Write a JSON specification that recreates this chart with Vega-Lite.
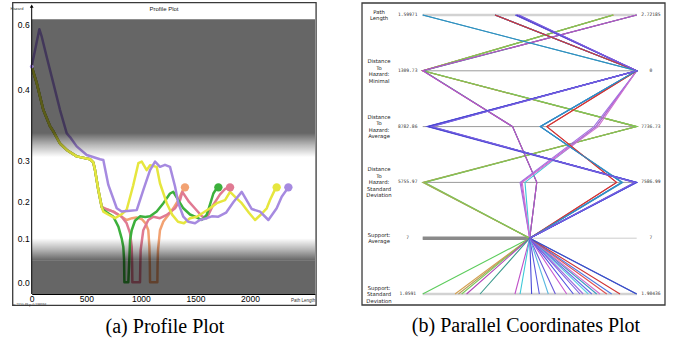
{
"$schema":"https://vega.github.io/schema/vega-lite/v6.json",
"width":673,"height":343,"padding":0,"autosize":{"type":"none"},
"background":"white",
"config":{"view":{"stroke":null},
"axisX":{"orient":"bottom","offset":-49,"tickSize":0,"labelPadding":0.8,"labelFontSize":8.5,"labelFont":"Liberation Sans","labelColor":"#000","domainColor":"#000","domainWidth":1,"grid":false,"labelFlush":false,"labelOverlap":false},
"axisY":{"orient":"left","offset":-31.7,"tickSize":0,"labelPadding":2.5,"labelFontSize":8.5,"labelFont":"Liberation Sans","labelColor":"#000","domain":false,"grid":false,"labelOverlap":false,"labelBound":false}},
"datasets":{
"prof":[
{"id":"orange","pl":0,"hz":0.469},{"id":"orange","pl":46,"hz":0.418},{"id":"orange","pl":106,"hz":0.371},{"id":"orange","pl":168,"hz":0.348},{"id":"orange","pl":198,"hz":0.341},{"id":"orange","pl":259,"hz":0.324},{"id":"orange","pl":321,"hz":0.315},{"id":"orange","pl":412,"hz":0.306},{"id":"orange","pl":534,"hz":0.302},{"id":"orange","pl":564,"hz":0.296},{"id":"orange","pl":580,"hz":0.277},{"id":"orange","pl":610,"hz":0.229},{"id":"orange","pl":641,"hz":0.186},
{"id":"orange","pl":680,"hz":0.18},{"id":"orange","pl":748,"hz":0.173},{"id":"orange","pl":824,"hz":0.159},{"id":"orange","pl":870,"hz":0.15},{"id":"orange","pl":920,"hz":0.155},{"id":"orange","pl":960,"hz":0.157},{"id":"orange","pl":1010,"hz":0.152},{"id":"orange","pl":1045,"hz":0.14},{"id":"orange","pl":1068,"hz":0.122},{"id":"orange","pl":1078,"hz":0.081},{"id":"orange","pl":1082,"hz":0.04},{"id":"orange","pl":1084,"hz":0.0},{"id":"orange","pl":1151,"hz":0.0},{"id":"orange","pl":1153,"hz":0.04},{"id":"orange","pl":1157,"hz":0.073},{"id":"orange","pl":1175,"hz":0.122},{"id":"orange","pl":1206,"hz":0.146},{"id":"orange","pl":1252,"hz":0.164},{"id":"orange","pl":1297,"hz":0.182},{"id":"orange","pl":1343,"hz":0.204},{"id":"orange","pl":1389,"hz":0.23},{"id":"orange","pl":1404,"hz":0.235},
{"id":"pink","pl":0,"hz":0.469},{"id":"pink","pl":46,"hz":0.418},{"id":"pink","pl":106,"hz":0.371},{"id":"pink","pl":168,"hz":0.348},{"id":"pink","pl":198,"hz":0.341},{"id":"pink","pl":259,"hz":0.324},{"id":"pink","pl":321,"hz":0.315},{"id":"pink","pl":412,"hz":0.306},{"id":"pink","pl":534,"hz":0.302},{"id":"pink","pl":564,"hz":0.296},{"id":"pink","pl":580,"hz":0.277},{"id":"pink","pl":610,"hz":0.229},{"id":"pink","pl":641,"hz":0.186},
{"id":"pink","pl":680,"hz":0.18},{"id":"pink","pl":748,"hz":0.173},{"id":"pink","pl":824,"hz":0.159},{"id":"pink","pl":870,"hz":0.141},{"id":"pink","pl":901,"hz":0.114},{"id":"pink","pl":916,"hz":0.081},{"id":"pink","pl":920,"hz":0.04},{"id":"pink","pl":922,"hz":0.0},{"id":"pink","pl":992,"hz":0.0},{"id":"pink","pl":995,"hz":0.04},{"id":"pink","pl":998,"hz":0.073},{"id":"pink","pl":1022,"hz":0.122},{"id":"pink","pl":1068,"hz":0.15},{"id":"pink","pl":1114,"hz":0.159},{"id":"pink","pl":1175,"hz":0.155},{"id":"pink","pl":1237,"hz":0.164},{"id":"pink","pl":1313,"hz":0.182},{"id":"pink","pl":1359,"hz":0.204},{"id":"pink","pl":1380,"hz":0.224},{"id":"pink","pl":1440,"hz":0.2},{"id":"pink","pl":1500,"hz":0.18},{"id":"pink","pl":1560,"hz":0.16},{"id":"pink","pl":1603,"hz":0.155},{"id":"pink","pl":1660,"hz":0.19},{"id":"pink","pl":1725,"hz":0.218},{"id":"pink","pl":1771,"hz":0.231},{"id":"pink","pl":1817,"hz":0.235},
{"id":"green","pl":0,"hz":0.469},{"id":"green","pl":46,"hz":0.418},{"id":"green","pl":106,"hz":0.371},{"id":"green","pl":168,"hz":0.348},{"id":"green","pl":198,"hz":0.341},{"id":"green","pl":259,"hz":0.324},{"id":"green","pl":321,"hz":0.315},{"id":"green","pl":412,"hz":0.306},{"id":"green","pl":534,"hz":0.302},{"id":"green","pl":564,"hz":0.296},{"id":"green","pl":580,"hz":0.277},{"id":"green","pl":610,"hz":0.229},{"id":"green","pl":641,"hz":0.186},
{"id":"green","pl":656,"hz":0.177},{"id":"green","pl":748,"hz":0.159},{"id":"green","pl":794,"hz":0.132},{"id":"green","pl":824,"hz":0.1},{"id":"green","pl":839,"hz":0.081},{"id":"green","pl":846,"hz":0.051},{"id":"green","pl":849,"hz":0.0},{"id":"green","pl":885,"hz":0.0},{"id":"green","pl":894,"hz":0.051},{"id":"green","pl":901,"hz":0.096},{"id":"green","pl":916,"hz":0.122},{"id":"green","pl":946,"hz":0.148},{"id":"green","pl":992,"hz":0.16},{"id":"green","pl":1040,"hz":0.158},{"id":"green","pl":1084,"hz":0.16},{"id":"green","pl":1145,"hz":0.173},{"id":"green","pl":1206,"hz":0.196},{"id":"green","pl":1267,"hz":0.22},{"id":"green","pl":1297,"hz":0.224},{"id":"green","pl":1343,"hz":0.204},{"id":"green","pl":1389,"hz":0.182},{"id":"green","pl":1450,"hz":0.165},{"id":"green","pl":1496,"hz":0.159},{"id":"green","pl":1557,"hz":0.15},{"id":"green","pl":1603,"hz":0.164},{"id":"green","pl":1633,"hz":0.192},{"id":"green","pl":1664,"hz":0.22},{"id":"green","pl":1695,"hz":0.233},{"id":"green","pl":1710,"hz":0.235},
{"id":"yellow","pl":0,"hz":0.469},{"id":"yellow","pl":46,"hz":0.418},{"id":"yellow","pl":106,"hz":0.371},{"id":"yellow","pl":168,"hz":0.348},{"id":"yellow","pl":198,"hz":0.341},{"id":"yellow","pl":259,"hz":0.324},{"id":"yellow","pl":321,"hz":0.315},{"id":"yellow","pl":412,"hz":0.306},{"id":"yellow","pl":534,"hz":0.302},{"id":"yellow","pl":564,"hz":0.296},{"id":"yellow","pl":580,"hz":0.277},{"id":"yellow","pl":610,"hz":0.229},{"id":"yellow","pl":641,"hz":0.186},
{"id":"yellow","pl":656,"hz":0.173},{"id":"yellow","pl":700,"hz":0.165},{"id":"yellow","pl":763,"hz":0.155},{"id":"yellow","pl":820,"hz":0.165},{"id":"yellow","pl":870,"hz":0.178},{"id":"yellow","pl":930,"hz":0.24},{"id":"yellow","pl":977,"hz":0.294},{"id":"yellow","pl":1008,"hz":0.298},{"id":"yellow","pl":1053,"hz":0.277},{"id":"yellow","pl":1084,"hz":0.289},{"id":"yellow","pl":1145,"hz":0.285},{"id":"yellow","pl":1175,"hz":0.245},{"id":"yellow","pl":1237,"hz":0.196},{"id":"yellow","pl":1288,"hz":0.164},{"id":"yellow","pl":1340,"hz":0.145},{"id":"yellow","pl":1394,"hz":0.141},{"id":"yellow","pl":1450,"hz":0.155},{"id":"yellow","pl":1512,"hz":0.159},{"id":"yellow","pl":1570,"hz":0.17},{"id":"yellow","pl":1633,"hz":0.182},{"id":"yellow","pl":1695,"hz":0.196},{"id":"yellow","pl":1771,"hz":0.204},{"id":"yellow","pl":1817,"hz":0.224},{"id":"yellow","pl":1870,"hz":0.21},{"id":"yellow","pl":1924,"hz":0.196},{"id":"yellow","pl":1990,"hz":0.17},{"id":"yellow","pl":2046,"hz":0.15},{"id":"yellow","pl":2100,"hz":0.165},{"id":"yellow","pl":2153,"hz":0.182},{"id":"yellow","pl":2183,"hz":0.204},{"id":"yellow","pl":2229,"hz":0.23},{"id":"yellow","pl":2244,"hz":0.235},
{"id":"purple","pl":0,"hz":0.469},{"id":"purple","pl":70,"hz":0.584},{"id":"purple","pl":92,"hz":0.561},{"id":"purple","pl":137,"hz":0.499},{"id":"purple","pl":198,"hz":0.418},{"id":"purple","pl":259,"hz":0.371},{"id":"purple","pl":321,"hz":0.338},{"id":"purple","pl":351,"hz":0.333},{"id":"purple","pl":412,"hz":0.32},{"id":"purple","pl":504,"hz":0.308},{"id":"purple","pl":626,"hz":0.302},{"id":"purple","pl":656,"hz":0.301},{"id":"purple","pl":702,"hz":0.241},{"id":"purple","pl":779,"hz":0.182},{"id":"purple","pl":824,"hz":0.173},{"id":"purple","pl":900,"hz":0.175},{"id":"purple","pl":962,"hz":0.177},{"id":"purple","pl":1022,"hz":0.228},{"id":"purple","pl":1084,"hz":0.277},{"id":"purple","pl":1130,"hz":0.298},{"id":"purple","pl":1175,"hz":0.285},{"id":"purple","pl":1221,"hz":0.29},{"id":"purple","pl":1267,"hz":0.285},{"id":"purple","pl":1313,"hz":0.237},{"id":"purple","pl":1343,"hz":0.196},{"id":"purple","pl":1389,"hz":0.159},{"id":"purple","pl":1435,"hz":0.145},{"id":"purple","pl":1496,"hz":0.141},{"id":"purple","pl":1540,"hz":0.15},{"id":"purple","pl":1603,"hz":0.155},{"id":"purple","pl":1650,"hz":0.16},{"id":"purple","pl":1710,"hz":0.159},{"id":"purple","pl":1780,"hz":0.17},{"id":"purple","pl":1850,"hz":0.2},{"id":"purple","pl":1924,"hz":0.224},{"id":"purple","pl":2016,"hz":0.18},{"id":"purple","pl":2092,"hz":0.173},{"id":"purple","pl":2168,"hz":0.15},{"id":"purple","pl":2244,"hz":0.182},{"id":"purple","pl":2290,"hz":0.212},{"id":"purple","pl":2351,"hz":0.235}
],
"ends":[
{"id":"orange","pl":1404,"hz":0.235},{"id":"pink","pl":1817,"hz":0.235},{"id":"green","pl":1710,"hz":0.235},{"id":"yellow","pl":2244,"hz":0.235},{"id":"purple","pl":2351,"hz":0.235}
],
"axes":[
{"key":"a0","k":0,"name":"Path\nLength","lo":"1.59971","hi":"2.72185"},
{"key":"a1","k":1,"name":"Distance\nTo\nHazard:\nMinimal","lo":"1309.73","hi":"0"},
{"key":"a2","k":2,"name":"Distance\nTo\nHazard:\nAverage","lo":"8782.86","hi":"7736.73"},
{"key":"a3","k":3,"name":"Distance\nTo\nHazard:\nStandard\nDeviation","lo":"5755.97","hi":"7586.99"},
{"key":"a4","k":4,"name":"Support:\nAverage","lo":"7","hi":"7"},
{"key":"a5","k":5,"name":"Support:\nStandard\nDeviation","lo":"1.0591","hi":"1.90436"}
],
"pc":[
{"r":"g1","a0":0.89,"a1":0,"a2":1,"a3":0,"a4":0.5,"a5":0},
{"r":"o1","a0":0.893,"a1":0,"a2":1,"a3":0.003,"a4":0.5,"a5":0.151},
{"r":"o2","a0":0.887,"a1":0,"a2":0.997,"a3":0.006,"a4":0.5,"a5":0.167},
{"r":"g2","a0":0.89,"a1":0.003,"a2":1,"a3":0.01,"a4":0.5,"a5":0.182},
{"r":"m1","a0":1,"a1":0,"a2":0.42,"a3":0.533,"a4":0.5,"a5":0.205},
{"r":"t1","a0":1,"a1":0.003,"a2":0.42,"a3":0.533,"a4":0.5,"a5":0.268},
{"r":"m2","a0":1,"a1":0,"a2":0.42,"a3":0.533,"a4":0.5,"a5":0.431},
{"r":"c1","a0":0.338,"a1":1,"a2":0.81,"a3":0.478,"a4":0.5,"a5":0.455},
{"r":"b1","a0":0.44,"a1":1,"a2":0.03,"a3":1,"a4":0.5,"a5":0.509},
{"r":"b2","a0":0.447,"a1":1,"a2":0.038,"a3":0.994,"a4":0.5,"a5":0.545},
{"r":"b7","a0":0.432,"a1":1,"a2":0.02,"a3":0.99,"a4":0.5,"a5":0.62},
{"r":"c2","a0":0.338,"a1":1,"a2":0.55,"a3":0.93,"a4":0.5,"a5":0.587},
{"r":"m3","a0":0.44,"a1":1,"a2":0.81,"a3":0.46,"a4":0.5,"a5":0.673},
{"r":"b3","a0":0.435,"a1":1,"a2":0.025,"a3":1,"a4":0.5,"a5":0.704},
{"r":"p1","a0":0.44,"a1":1,"a2":0.8,"a3":0.455,"a4":0.5,"a5":0.75},
{"r":"c3","a0":0.338,"a1":1,"a2":0.55,"a3":0.93,"a4":0.5,"a5":0.774},
{"r":"b4","a0":0.443,"a1":1,"a2":0.033,"a3":1,"a4":0.5,"a5":0.79},
{"r":"t2","a0":0,"a1":1,"a2":0.55,"a3":0.935,"a4":0.5,"a5":0.813},
{"r":"p2","a0":0.44,"a1":1,"a2":0.82,"a3":0.465,"a4":0.5,"a5":0.829},
{"r":"r1","a0":0.338,"a1":1,"a2":0.58,"a3":0.906,"a4":0.5,"a5":0.86},
{"r":"b5","a0":0.338,"a1":1,"a2":0.55,"a3":0.93,"a4":0.5,"a5":0.883},
{"r":"r2","a0":0.338,"a1":1,"a2":0.58,"a3":0.906,"a4":0.5,"a5":0.922},
{"r":"t3","a0":0,"a1":1,"a2":0.55,"a3":0.93,"a4":0.5,"a5":1},
{"r":"b6","a0":0.438,"a1":1,"a2":0.028,"a3":0.997,"a4":0.5,"a5":1},
{"r":"b8","a0":0.45,"a1":1,"a2":0.042,"a3":0.992,"a4":0.5,"a5":0.735}
]
},
"resolve":{"scale":{"x":"independent","y":"independent","color":"independent","strokeWidth":"independent"}},
"layer":[
{
"layer":[
{"data":{"name":"prof"},"mark":{"type":"line","strokeJoin":"round","strokeCap":"round"},"encoding":{
"x":{"field":"pl","type":"quantitative","title":null,"scale":{"domain":[0,2595],"range":[31.7,315],"nice":false,"zero":false},"axis":{"values":[0,500,1000,1500,2000],"format":"d","title":null}},
"y":{"field":"hz","type":"quantitative","title":null,"scale":{"domain":[-0.0266,0,0.1,0.2,0.3,0.4,0.6,0.6145],"range":[294,282.3,238.3,201.7,160.7,89,24,19.3],"nice":false,"zero":false},"axis":{"values":[0,0.1,0.2,0.3,0.4,0.6],"format":".1f","title":null}},
"color":{"field":"id","type":"nominal","legend":null,"scale":{"domain":["orange","pink","green","yellow","purple"],"range":["#f2a272","#e07a92","#3cb03c","#e6e63e","#a68ae0"]}},
"strokeWidth":{"field":"id","type":"ordinal","legend":null,"scale":{"domain":["orange","pink","green","yellow","purple"],"range":[2.5,2.5,2,1.6,1.9]}},
"order":{"value":null}}},
{"data":{"values":[{"pl":0,"pl2":2595,"hz":0.3386,"hz2":0.6145}]},"mark":{"type":"rect","color":"#000000","opacity":0.6},"encoding":{"x":{"field":"pl","type":"quantitative","title":null,"axis":{"values":[0,500,1000,1500,2000],"format":"d","title":null}},"x2":{"field":"pl2"},"y":{"field":"hz","type":"quantitative","title":null,"axis":{"values":[0,0.1,0.2,0.3,0.4,0.6],"format":".1f","title":null}},"y2":{"field":"hz2"}}},
{"data":{"values":[{"pl":0,"pl2":2595,"hz":-0.0266,"hz2":0.05}]},"mark":{"type":"rect","color":"#000000","opacity":0.6},"encoding":{"x":{"field":"pl","type":"quantitative","title":null,"axis":{"values":[0,500,1000,1500,2000],"format":"d","title":null}},"x2":{"field":"pl2"},"y":{"field":"hz","type":"quantitative","title":null,"axis":{"values":[0,0.1,0.2,0.3,0.4,0.6],"format":".1f","title":null}},"y2":{"field":"hz2"}}},
{"data":{"values":[{"pl":0,"pl2":2595,"hz":0.305,"hz2":0.3386}]},"mark":{"type":"rect","color":{"gradient":"linear","x1":0,"y1":0,"x2":0,"y2":1,"stops":[{"offset":0,"color":"rgba(0,0,0,0.6)"},{"offset":0.5,"color":"rgba(0,0,0,0.28)"},{"offset":1,"color":"rgba(0,0,0,0)"}]}},"encoding":{"x":{"field":"pl","type":"quantitative","title":null,"axis":{"values":[0,500,1000,1500,2000],"format":"d","title":null}},"x2":{"field":"pl2"},"y":{"field":"hz","type":"quantitative","title":null,"axis":{"values":[0,0.1,0.2,0.3,0.4,0.6],"format":".1f","title":null}},"y2":{"field":"hz2"}}},
{"data":{"values":[{"pl":0,"pl2":2595,"hz":0.05,"hz2":0.1}]},"mark":{"type":"rect","color":{"gradient":"linear","x1":0,"y1":0,"x2":0,"y2":1,"stops":[{"offset":0,"color":"rgba(0,0,0,0)"},{"offset":0.5,"color":"rgba(0,0,0,0.28)"},{"offset":1,"color":"rgba(0,0,0,0.6)"}]}},"encoding":{"x":{"field":"pl","type":"quantitative","title":null,"axis":{"values":[0,500,1000,1500,2000],"format":"d","title":null}},"x2":{"field":"pl2"},"y":{"field":"hz","type":"quantitative","title":null,"axis":{"values":[0,0.1,0.2,0.3,0.4,0.6],"format":".1f","title":null}},"y2":{"field":"hz2"}}},
{"data":{"name":"ends"},"mark":{"type":"circle","size":70,"opacity":1},"encoding":{"x":{"field":"pl","type":"quantitative","title":null,"axis":{"values":[0,500,1000,1500,2000],"format":"d","title":null}},"y":{"field":"hz","type":"quantitative","title":null,"axis":{"values":[0,0.1,0.2,0.3,0.4,0.6],"format":".1f","title":null}},"color":{"field":"id","type":"nominal","legend":null}}},
{"data":{"values":[{"id":"purple","pl":0,"hz":0.469}]},"mark":{"type":"circle","size":14,"opacity":1},"encoding":{"x":{"field":"pl","type":"quantitative","title":null,"axis":{"values":[0,500,1000,1500,2000],"format":"d","title":null}},"y":{"field":"hz","type":"quantitative","title":null,"axis":{"values":[0,0.1,0.2,0.3,0.4,0.6],"format":".1f","title":null}},"color":{"field":"id","type":"nominal","legend":null}}},
{"data":{"values":[{}]},"mark":{"type":"rule","color":"#000","strokeWidth":1},"encoding":{"x":{"datum":0,"title":null,"axis":{"values":[0,500,1000,1500,2000],"format":"d","title":null}},"y":{"datum":-0.0266,"title":null,"axis":{"values":[0,0.1,0.2,0.3,0.4,0.6],"format":".1f","title":null}},"y2":{"datum":0.655}}},
{"data":{"values":[{}]},"mark":{"type":"point","shape":"triangle-up","filled":true,"color":"#000","size":14,"opacity":1},"encoding":{"x":{"datum":0,"title":null,"axis":{"values":[0,500,1000,1500,2000],"format":"d","title":null}},"y":{"datum":0.655,"title":null,"axis":{"values":[0,0.1,0.2,0.3,0.4,0.6],"format":".1f","title":null}}}},
{"data":{"values":[{}]},"mark":{"type":"text","text":"Profile Plot","font":"Liberation Sans","fontSize":6,"color":"#222","align":"center","baseline":"middle"},"encoding":{"x":{"datum":1212,"title":null,"axis":{"values":[0,500,1000,1500,2000],"format":"d","title":null}},"y":{"datum":0.6448,"title":null,"axis":{"values":[0,0.1,0.2,0.3,0.4,0.6],"format":".1f","title":null}}}},
{"data":{"values":[{}]},"mark":{"type":"text","text":"Hazard","font":"Liberation Sans","fontSize":4,"color":"#333","align":"center","baseline":"middle"},"encoding":{"x":{"datum":-135,"title":null,"axis":{"values":[0,500,1000,1500,2000],"format":"d","title":null}},"y":{"datum":0.6463,"title":null,"axis":{"values":[0,0.1,0.2,0.3,0.4,0.6],"format":".1f","title":null}}}},
{"data":{"values":[{}]},"mark":{"type":"text","text":"Path Length","font":"Liberation Sans","fontSize":4.5,"color":"#333","align":"center","baseline":"middle"},"encoding":{"x":{"datum":2486,"title":null,"axis":{"values":[0,500,1000,1500,2000],"format":"d","title":null}},"y":{"datum":-0.0436,"title":null,"axis":{"values":[0,0.1,0.2,0.3,0.4,0.6],"format":".1f","title":null}}}},
{"data":{"values":[{}]},"mark":{"type":"text","text":"x: 2110.49 y: 0.198394","font":"Liberation Sans","fontSize":3.3,"color":"#333","align":"left","baseline":"middle"},"encoding":{"x":{"datum":-171,"title":null,"axis":{"values":[0,500,1000,1500,2000],"format":"d","title":null}},"y":{"datum":-0.0505,"title":null,"axis":{"values":[0,0.1,0.2,0.3,0.4,0.6],"format":".1f","title":null}}}},
{"data":{"values":[{}]},"mark":{"type":"text","text":"(a) Profile Plot","font":"Liberation Serif","fontSize":20,"color":"#000","align":"center","baseline":"middle"},"encoding":{"x":{"datum":1221,"title":null,"axis":{"values":[0,500,1000,1500,2000],"format":"d","title":null}},"y":{"datum":-0.1005,"title":null,"axis":{"values":[0,0.1,0.2,0.3,0.4,0.6],"format":".1f","title":null}}}},
{"data":{"values":[{}]},"mark":{"type":"rect","filled":false,"color":"#3a3a3a","strokeWidth":1.3},"encoding":{"x":{"datum":-174,"title":null,"axis":{"values":[0,500,1000,1500,2000],"format":"d","title":null}},"x2":{"datum":2605},"y":{"datum":-0.0523,"title":null,"axis":{"values":[0,0.1,0.2,0.3,0.4,0.6],"format":".1f","title":null}},"y2":{"datum":0.6657}}}
]
},
{
"layer":[
{"data":{"name":"axes"},"transform":[{"filter":{"field":"k","oneOf":[1,2,3]}}],"mark":{"type":"rule","color":"#9a9a9a","strokeWidth":1},"encoding":{"x":{"datum":0,"axis":null},"x2":{"datum":1},"y":{"field":"k","type":"quantitative","axis":null}}},
{"data":{"name":"axes"},"transform":[{"filter":{"field":"k","oneOf":[0,5]}}],"mark":{"type":"rule","color":"#d2d2d2","strokeWidth":2.5},"encoding":{"x":{"datum":0,"axis":null},"x2":{"datum":1},"y":{"field":"k","type":"quantitative","axis":null}}},
{"data":{"name":"axes"},"transform":[{"filter":{"field":"k","equal":4}}],"mark":{"type":"rule","color":"#cccccc","strokeWidth":1},"encoding":{"x":{"datum":0,"axis":null},"x2":{"datum":1},"y":{"field":"k","type":"quantitative","axis":null}}},
{"data":{"name":"axes"},"transform":[{"filter":{"field":"k","equal":4}}],"mark":{"type":"rule","color":"#8a8a8a","strokeWidth":3.5},"encoding":{"x":{"datum":0,"axis":null},"x2":{"datum":0.5},"y":{"field":"k","type":"quantitative","axis":null}}},
{"data":{"name":"pc"},"transform":[{"fold":["a0","a1","a2","a3","a4","a5"],"as":["key","t"]},{"lookup":"key","from":{"data":{"name":"axes"},"key":"key","fields":["k"]}}],"mark":{"type":"line","strokeWidth":1.1},"encoding":{
"x":{"field":"t","type":"quantitative","axis":null,"scale":{"domain":[0,1],"range":[422.7,636.7],"nice":false,"zero":false}},
"y":{"field":"k","type":"quantitative","axis":null,"scale":{"domain":[0,5],"range":[15,294],"nice":false,"zero":false}},
"color":{"field":"r","type":"nominal","legend":null,"scale":{"domain":["g1","o1","o2","g2","m1","t1","m2","c1","b1","b2","b7","c2","m3","b3","p1","c3","b4","t2","p2","r1","b5","r2","t3","b6","b8"],"range":["#5ccc5c","#d4a050","#b89a58","#7ac85a","#b044b8","#3a9a8c","#c050c8","#3cc8d8","#4a4ad8","#5c5ce0","#6a5ad8","#5ab8e0","#c858d0","#5050e0","#a070e0","#60d0e0","#6a6ae8","#3c9cc0","#d070d0","#e05050","#5078e0","#d03434","#2f8fc0","#4444cc","#7a60e0"]}},
"order":{"field":"k","type":"quantitative"}}},
{"data":{"name":"axes"},"transform":[{"filter":{"field":"k","oneOf":[0,4]}}],"mark":{"type":"text","font":"DejaVu Sans","fontSize":5.3,"lineHeight":6.5,"lineBreak":"\n","align":"center","baseline":"middle","dy":-3.25,"color":"#222"},"encoding":{"x":{"datum":-0.204,"axis":null},"y":{"field":"k","type":"quantitative","axis":null},"text":{"field":"name"}}},
{"data":{"name":"axes"},"transform":[{"filter":{"field":"k","oneOf":[1,2]}}],"mark":{"type":"text","font":"DejaVu Sans","fontSize":5.3,"lineHeight":6.5,"lineBreak":"\n","align":"center","baseline":"middle","dy":-9.75,"color":"#222"},"encoding":{"x":{"datum":-0.204,"axis":null},"y":{"field":"k","type":"quantitative","axis":null},"text":{"field":"name"}}},
{"data":{"name":"axes"},"transform":[{"filter":{"field":"k","equal":3}}],"mark":{"type":"text","font":"DejaVu Sans","fontSize":5.3,"lineHeight":6.5,"lineBreak":"\n","align":"center","baseline":"middle","dy":-13,"color":"#222"},"encoding":{"x":{"datum":-0.204,"axis":null},"y":{"field":"k","type":"quantitative","axis":null},"text":{"field":"name"}}},
{"data":{"name":"axes"},"transform":[{"filter":{"field":"k","equal":5}}],"mark":{"type":"text","font":"DejaVu Sans","fontSize":5.3,"lineHeight":6.5,"lineBreak":"\n","align":"center","baseline":"middle","dy":-6.5,"color":"#222"},"encoding":{"x":{"datum":-0.204,"axis":null},"y":{"field":"k","type":"quantitative","axis":null},"text":{"field":"name"}}},
{"data":{"name":"axes"},"mark":{"type":"text","font":"DejaVu Sans Mono","fontSize":4.6,"align":"center","baseline":"middle","color":"#333"},"encoding":{"x":{"datum":-0.07,"axis":null},"y":{"field":"k","type":"quantitative","axis":null},"text":{"field":"lo"}}},
{"data":{"name":"axes"},"mark":{"type":"text","font":"DejaVu Sans Mono","fontSize":4.6,"align":"center","baseline":"middle","color":"#333"},"encoding":{"x":{"datum":1.066,"axis":null},"y":{"field":"k","type":"quantitative","axis":null},"text":{"field":"hi"}}},
{"data":{"values":[{}]},"mark":{"type":"text","text":"(b) Parallel Coordinates Plot","font":"Liberation Serif","fontSize":20,"color":"#000","align":"center","baseline":"middle"},"encoding":{"x":{"datum":0.4827,"axis":null},"y":{"datum":5.573,"axis":null}}},
{"data":{"values":[{}]},"mark":{"type":"rect","filled":false,"color":"#3a3a3a","strokeWidth":1.3},"encoding":{"x":{"datum":-0.2836,"axis":null},"x2":{"datum":1.1322},"y":{"datum":-0.215,"axis":null},"y2":{"datum":5.197}}}
]
}
]
}
